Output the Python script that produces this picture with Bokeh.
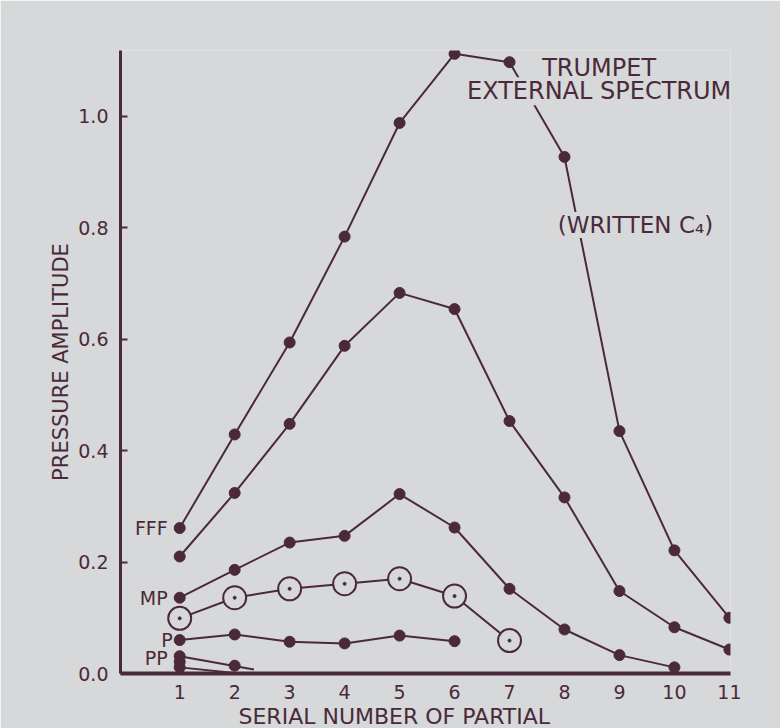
from bokeh.plotting import figure
from bokeh.models import Range1d, FixedTicker, Label, NumeralTickFormatter, Title
from bokeh.embed import file_html
from bokeh.resources import INLINE

# ---- data ----
partials = [1, 2, 3, 4, 5, 6, 7, 8, 9, 10, 11]
fff = [0.261, 0.429, 0.594, 0.784, 0.988, 1.112, 1.097, 0.927, 0.435, 0.221, 0.100]
ff = [0.210, 0.324, 0.448, 0.588, 0.683, 0.654, 0.453, 0.316, 0.148, 0.083, 0.043]
mp_x = [1, 2, 3, 4, 5, 6, 7, 8, 9, 10]
mp = [0.136, 0.186, 0.235, 0.247, 0.322, 0.262, 0.152, 0.079, 0.033, 0.011]
mf_x = [1, 2, 3, 4, 5, 6, 7]
mf = [0.099, 0.136, 0.152, 0.161, 0.170, 0.139, 0.059]
p_x = [1, 2, 3, 4, 5, 6]
p_vals = [0.060, 0.070, 0.057, 0.054, 0.068, 0.058]
pp_x = [1, 2]
pp = [0.031, 0.014]
pp_line_x = [1, 2.35]
pp_line = [0.031, 0.007]
ppp_x = [1, 2]
ppp = [0.011, 0.001]
pp_mid_x = [1]
pp_mid = [0.021]
y_ticks = [0.0, 0.2, 0.4, 0.6, 0.8, 1.0]

INK = "#4a2a3a"
BG = "#d6d8d9"
FONT = "DejaVu Sans"

p = figure(width=780, height=728, x_range=Range1d(-0.077, 11.02), y_range=Range1d(0, 1.118),
           output_backend="svg", toolbar_location=None,
           min_border_left=120, min_border_right=50, min_border_top=50, min_border_bottom=10)
p.background_fill_color = BG
p.border_fill_color = BG
p.outline_line_color = None
p.xgrid.visible = False
p.ygrid.visible = False

# x axis
xa = p.xaxis[0]
xa.ticker = FixedTicker(ticks=partials)
xa.major_tick_line_color = None
xa.minor_tick_line_color = None
xa.axis_line_width = 4
xa.axis_line_color = INK
xa.major_label_text_font = FONT
xa.major_label_text_font_size = "19px"
xa.major_label_text_color = INK
xa.major_label_standoff = 5

# x axis title, placed below the axis and shifted left as in the reference
p.add_layout(Title(text="SERIAL NUMBER OF PARTIAL", align="left", offset=118, standoff=0,
                   text_font=FONT, text_font_size="22px", text_font_style="normal",
                   text_color=INK), "below")

# y axis
ya = p.yaxis[0]
ya.ticker = FixedTicker(ticks=y_ticks)
ya.formatter = NumeralTickFormatter(format="0.0")
ya.major_tick_in = 7
ya.major_tick_out = 0
ya.major_tick_line_width = 2
ya.major_tick_line_color = INK
ya.minor_tick_line_color = None
ya.axis_line_width = 3
ya.axis_line_color = INK
ya.major_label_text_font = FONT
ya.major_label_text_font_size = "19px"
ya.major_label_text_color = INK
ya.major_label_standoff = 12
ya.axis_label = "PRESSURE AMPLITUDE"
ya.axis_label_text_font = FONT
ya.axis_label_text_font_style = "normal"
ya.axis_label_text_font_size = "21px"
ya.axis_label_text_color = INK
ya.axis_label_standoff = 2

LW = 2
DOT = 11

def dotted_line(xs, ys):
    p.line(xs, ys, line_width=LW, line_color=INK)
    p.scatter(xs, ys, size=DOT, fill_color=INK, line_color=INK)

dotted_line(partials, fff)
dotted_line(partials, ff)
dotted_line(mp_x, mp)
dotted_line(p_x, p_vals)

# pp group
p.line(pp_line_x, pp_line, line_width=LW, line_color=INK)
p.line(ppp_x, ppp, line_width=LW, line_color=INK)
p.scatter(pp_x, pp, size=DOT, fill_color=INK, line_color=INK)
p.scatter(ppp_x[:1], ppp[:1], size=DOT, fill_color=INK, line_color=INK)
p.scatter(pp_mid_x, pp_mid, size=DOT, fill_color=INK, line_color=INK)

# open-circle series
p.line(mf_x, mf, line_width=LW, line_color=INK)
p.scatter(mf_x, mf, size=23, fill_color=BG, line_color=INK, line_width=2)
p.scatter(mf_x, mf, size=3, fill_color=INK, line_color=INK)

# series labels
def side_label(x, y, text, off):
    p.add_layout(Label(x=x, y=y, x_offset=off, text=text, text_align="right",
                       text_baseline="middle", text_font=FONT, text_font_size="19px",
                       text_color=INK))

side_label(partials[0], fff[0], "FFF", -12)
side_label(mp_x[0], mp[0], "MP", -12)
side_label(p_x[0], p_vals[0], "P", -7)
side_label(pp_x[0], pp[0] - 0.003, "PP", -12)

# title texts
p.add_layout(Label(x=8.63, y=1.086, text="TRUMPET", text_align="center", text_baseline="middle",
                   text_font=FONT, text_font_size="24px", text_color=INK))
p.add_layout(Label(x=8.63, y=1.045, text="EXTERNAL SPECTRUM", text_align="center",
                   text_baseline="middle", text_font=FONT, text_font_size="24px",
                   text_color=INK, background_fill_color=BG))
p.add_layout(Label(x=9.29, y=0.805, text="(WRITTEN C\u2084)", text_align="center",
                   text_baseline="middle", text_font=FONT, text_font_size="23px",
                   text_color=INK, background_fill_color=BG))

open("out.html", "w").write(file_html(p, INLINE))
